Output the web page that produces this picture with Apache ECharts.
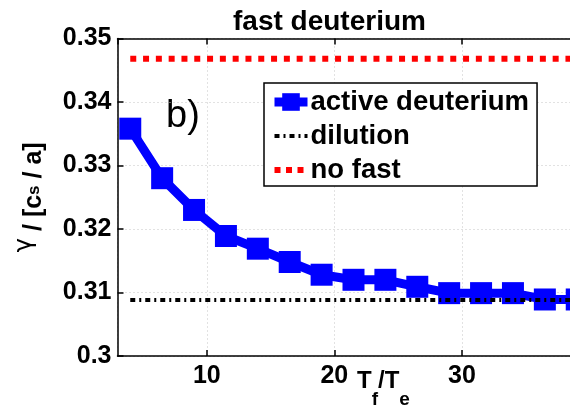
<!DOCTYPE html>
<html>
<head>
<meta charset="utf-8">
<script src="https://cdn.jsdelivr.net/npm/echarts@6/dist/echarts.min.js"></script>
<style>
  html, body { margin: 0; padding: 0; overflow: hidden; background: #fff; }
  #chart { width: 600px; height: 409px; }
</style>
</head>
<body>
<div id="chart"></div>
<script>
// Growth rate versus fast-ion temperature ratio
const ratio = [4, 6.5, 9, 11.5, 14, 16.5, 19, 21.5, 24, 26.5, 29, 31.5, 34, 36.5, 39];
const activeGamma = [0.3358, 0.3280, 0.3230, 0.3189, 0.3169, 0.3148, 0.3128, 0.3120,
                     0.3120, 0.3109, 0.3099, 0.3099, 0.3099, 0.3089, 0.3089];
const dilutionGamma = 0.3088;
const noFastGamma = 0.3468;
const xRange = [3, 40];
const yRange = [0.30, 0.35];
const seriesNames = ['active deuterium', 'dilution', 'no fast'];

const FONT = '"Liberation Sans", Arial, Helvetica, sans-serif';
const flatLine = v => [[ratio[0], v], [xRange[1], v]];

const chart = echarts.init(document.getElementById('chart'), null, { renderer: 'canvas' });

const gridLine = { show: true, lineStyle: { color: '#c4c4c4', width: 1, type: [1, 3] } };
const blackAxis = { show: true, onZero: false, lineStyle: { color: '#000', width: 1.5 } };
const innerTick = { show: true, inside: true, length: 6, lineStyle: { color: '#000', width: 1.5 } };

chart.setOption({
  animation: false,
  backgroundColor: '#fff',
  title: {
    text: 'fast deuterium',
    left: 233, top: 8, padding: 0,
    textStyle: { fontFamily: FONT, fontSize: 28, fontWeight: 'bold', color: '#000' }
  },
  graphic: [{
    type: 'text', left: 166, top: 98, silent: true,
    style: { text: 'b)', fontFamily: FONT, fontSize: 38, fill: '#000' }
  }],
  legend: {
    orient: 'vertical',
    left: 264, top: 83,
    data: [
      { name: seriesNames[0], lineStyle: { width: 9 } },
      { name: seriesNames[1], itemStyle: { opacity: 0 }, lineStyle: { width: 4, type: [5, 4, 2, 4] } },
      { name: seriesNames[2], itemStyle: { opacity: 0 }, lineStyle: { width: 6, type: [6, 5.5] } }
    ],
    itemWidth: 33, itemHeight: 22, itemGap: 6,
    padding: [5, 8, 2, 6],
    backgroundColor: '#fff', borderColor: '#000', borderWidth: 1.5,
    textStyle: { fontFamily: FONT, fontSize: 27.5, fontWeight: 'bold', color: '#000', padding: [0, 0, 0, -2] }
  },
  grid: { left: 117.5, right: 10.5, top: 38.5, bottom: 53, outerBoundsMode: 'none', containLabel: false },
  xAxis: [{
    type: 'value', min: xRange[0], max: xRange[1],
    name: '{t|T}{s|f}{t|/T}{s|e}',
    nameLocation: 'middle', nameGap: 13, nameMoveOverlap: false,
    nameTextStyle: {
      padding: [0, 0, 0, 60],
      rich: {
        t: { fontFamily: FONT, fontSize: 24, fontWeight: 'bold', color: '#000', lineHeight: 24, verticalAlign: 'top' },
        s: { fontFamily: FONT, fontSize: 19, fontWeight: 'bold', color: '#000', lineHeight: 62, verticalAlign: 'middle' }
      }
    },
    axisLine: blackAxis,
    axisTick: innerTick,
    axisLabel: { showMinLabel: false, showMaxLabel: false, margin: 8,
      fontFamily: FONT, fontSize: 25, fontWeight: 'bold', color: '#000' },
    splitLine: gridLine
  }, {
    type: 'value', position: 'top', min: xRange[0], max: xRange[1],
    axisLine: blackAxis,
    axisTick: innerTick,
    axisLabel: { show: false },
    splitLine: { show: false }
  }],
  yAxis: {
    type: 'value', min: yRange[0], max: yRange[1], interval: 0.01,
    name: '{g|γ} / [c{s|s} / a]',
    nameLocation: 'middle', nameGap: 105, nameRotate: 90, nameMoveOverlap: false,
    nameTextStyle: {
      rich: {
        g: { fontFamily: '"DejaVu Sans", sans-serif', fontSize: 24, fontWeight: 'normal', color: '#000', lineHeight: 26, verticalAlign: 'top' },
        s: { fontFamily: FONT, fontSize: 17, fontWeight: 'bold', color: '#000', lineHeight: 44, verticalAlign: 'middle' }
      },
      fontFamily: FONT, fontSize: 25, fontWeight: 'bold', color: '#000', lineHeight: 26, verticalAlign: 'top'
    },
    axisLine: blackAxis,
    axisTick: innerTick,
    axisLabel: { margin: 6, fontFamily: FONT, fontSize: 25, fontWeight: 'bold', color: '#000',
      formatter: v => String(+v.toFixed(2)) },
    splitLine: gridLine
  },
  series: [{
    name: seriesNames[0], type: 'line',
    data: ratio.map((x, i) => [x, activeGamma[i]]),
    symbol: 'rect', symbolSize: 22,
    lineStyle: { color: '#0000ff', width: 9 },
    itemStyle: { color: '#0000ff' },
    color: '#0000ff', z: 2
  }, {
    name: seriesNames[1], type: 'line',
    data: flatLine(dilutionGamma),
    symbol: 'none',
    lineStyle: { color: '#000', width: 4, type: [5, 4, 2, 4] },
    itemStyle: { color: '#000' },
    color: '#000', z: 3
  }, {
    name: seriesNames[2], type: 'line',
    data: flatLine(noFastGamma),
    symbol: 'none',
    lineStyle: { color: '#ff0000', width: 6, type: [6, 6.8] },
    itemStyle: { color: '#ff0000' },
    color: '#ff0000', z: 3
  }]
});
</script>
</body>
</html>
